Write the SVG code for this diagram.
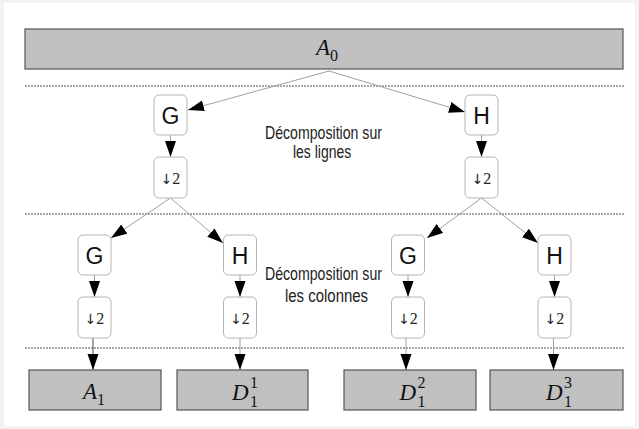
<svg xmlns="http://www.w3.org/2000/svg" width="639" height="429" viewBox="0 0 639 429">
<defs>
<style>
.band{fill:#c0c0c0;stroke:#555;stroke-width:1.2}
.op{fill:#fff;stroke:#b4b4b4;stroke-width:1}
.sep{stroke:#555;stroke-width:1;stroke-dasharray:2 1;fill:none}
.conn{stroke:#a0a0a0;stroke-width:1;fill:none;marker-end:url(#ah)}
.lbl{font-family:"Liberation Sans",Arial,sans-serif;font-size:18px;fill:#222}
.gh{font-family:"Liberation Sans",Arial,sans-serif;font-size:23px;fill:#111;text-anchor:middle}
.dn{font-family:"Liberation Serif","DejaVu Serif",serif;font-size:16px;fill:#222;text-anchor:middle}
.ar{font-family:"DejaVu Sans",sans-serif;font-size:14px;fill:#222}
.m{font-family:"Liberation Serif","Times New Roman",serif;font-size:23px;fill:#111}
.mi{font-style:italic}
.s{font-size:16px}
</style>
<marker id="ah" markerUnits="userSpaceOnUse" markerWidth="16" markerHeight="12" refX="16" refY="5.5" orient="auto">
<path d="M0,0 L16,5.5 L0,11 Z" fill="#000"/>
</marker>
</defs>
<rect x="0" y="0" width="639" height="429" fill="#f2f2f2"/>
<rect x="4" y="3" width="631" height="423" fill="#fff"/>

<g id="separators">
<line class="sep" x1="25" y1="86" x2="624" y2="86"/>
<line class="sep" x1="25" y1="214" x2="624" y2="214"/>
<line class="sep" x1="25" y1="348" x2="624" y2="348"/>
</g>

<g id="connectors">
<line class="conn" x1="329" y1="71" x2="188" y2="110"/>
<line class="conn" x1="329" y1="71" x2="465" y2="112"/>
<line class="conn" x1="170.5" y1="135" x2="170.5" y2="157"/>
<line class="conn" x1="481.5" y1="135" x2="481.5" y2="157"/>
<line class="conn" x1="170.5" y1="198" x2="111" y2="238"/>
<line class="conn" x1="170.5" y1="198" x2="223" y2="243"/>
<line class="conn" x1="481.5" y1="198" x2="427" y2="238"/>
<line class="conn" x1="481.5" y1="198" x2="538" y2="243"/>
<line class="conn" x1="94.5" y1="275" x2="94.5" y2="297"/>
<line class="conn" x1="240" y1="275" x2="240" y2="297"/>
<line class="conn" x1="408" y1="275" x2="408" y2="297"/>
<line class="conn" x1="554.5" y1="275" x2="554.5" y2="297"/>
<line class="conn" style="stroke:#444" x1="93" y1="338" x2="93" y2="370"/>
<line class="conn" x1="240" y1="338" x2="240" y2="370"/>
<line class="conn" x1="406" y1="338" x2="406" y2="370"/>
<line class="conn" x1="553.5" y1="338" x2="553.5" y2="370"/>
</g>

<g id="A0">
<rect class="band" x="25" y="29" width="598" height="40"/>
<text class="m" x="316" y="55"><tspan class="mi">A</tspan><tspan class="s" dy="6">0</tspan></text>
</g>

<g id="G1"><rect class="op" x="154" y="95" width="33" height="40" rx="5"/><text class="gh" x="170.5" y="123.5">G</text></g>
<g id="H1"><rect class="op" x="465" y="95" width="33" height="40" rx="5"/><text class="gh" x="481.5" y="123.5">H</text></g>
<g id="D1"><rect class="op" x="154" y="157" width="33" height="41" rx="5"/><text class="dn" x="170.5" y="184"><tspan class="ar">↓</tspan>2</text></g>
<g id="D2"><rect class="op" x="465" y="157" width="33" height="41" rx="5"/><text class="dn" x="481.5" y="184"><tspan class="ar">↓</tspan>2</text></g>

<g id="label-lignes">
<text class="lbl" transform="translate(265,139) scale(0.785,1)">Décomposition sur</text>
<text class="lbl" transform="translate(293,158) scale(0.775,1)">les lignes</text>
</g>

<g id="G2"><rect class="op" x="78" y="235" width="33" height="40" rx="5"/><text class="gh" x="94.5" y="263.5">G</text></g>
<g id="H2"><rect class="op" x="223.5" y="235" width="33" height="40" rx="5"/><text class="gh" x="240" y="263.5">H</text></g>
<g id="G3"><rect class="op" x="391.5" y="235" width="33" height="40" rx="5"/><text class="gh" x="408" y="263.5">G</text></g>
<g id="H3"><rect class="op" x="538" y="235" width="33" height="40" rx="5"/><text class="gh" x="554.5" y="263.5">H</text></g>

<g id="D3"><rect class="op" x="78" y="297" width="33" height="41" rx="5"/><text class="dn" x="94.5" y="324"><tspan class="ar">↓</tspan>2</text></g>
<g id="D4"><rect class="op" x="223.5" y="297" width="33" height="41" rx="5"/><text class="dn" x="240" y="324"><tspan class="ar">↓</tspan>2</text></g>
<g id="D5"><rect class="op" x="391.5" y="297" width="33" height="41" rx="5"/><text class="dn" x="408" y="324"><tspan class="ar">↓</tspan>2</text></g>
<g id="D6"><rect class="op" x="538" y="297" width="33" height="41" rx="5"/><text class="dn" x="554.5" y="324"><tspan class="ar">↓</tspan>2</text></g>

<g id="label-colonnes">
<text class="lbl" transform="translate(265,280) scale(0.785,1)">Décomposition sur</text>
<text class="lbl" transform="translate(285,302) scale(0.83,1)">les colonnes</text>
</g>

<g id="A1">
<rect class="band" x="29" y="370" width="132" height="40"/>
<text class="m" x="83" y="399"><tspan class="mi">A</tspan><tspan class="s" dy="6">1</tspan></text>
</g>
<g id="D11">
<rect class="band" x="177" y="370" width="131" height="40"/>
<text class="m" x="232" y="400"><tspan class="mi">D</tspan></text>
<text class="m s" x="250" y="388">1</text><text class="m s" x="250" y="407">1</text>
</g>
<g id="D12">
<rect class="band" x="344" y="370" width="132" height="40"/>
<text class="m" x="399.5" y="400"><tspan class="mi">D</tspan></text>
<text class="m s" x="417.5" y="388">2</text><text class="m s" x="417.5" y="407">1</text>
</g>
<g id="D13">
<rect class="band" x="490" y="370" width="133" height="40"/>
<text class="m" x="546" y="400"><tspan class="mi">D</tspan></text>
<text class="m s" x="564" y="388">3</text><text class="m s" x="564" y="407">1</text>
</g>
</svg>
